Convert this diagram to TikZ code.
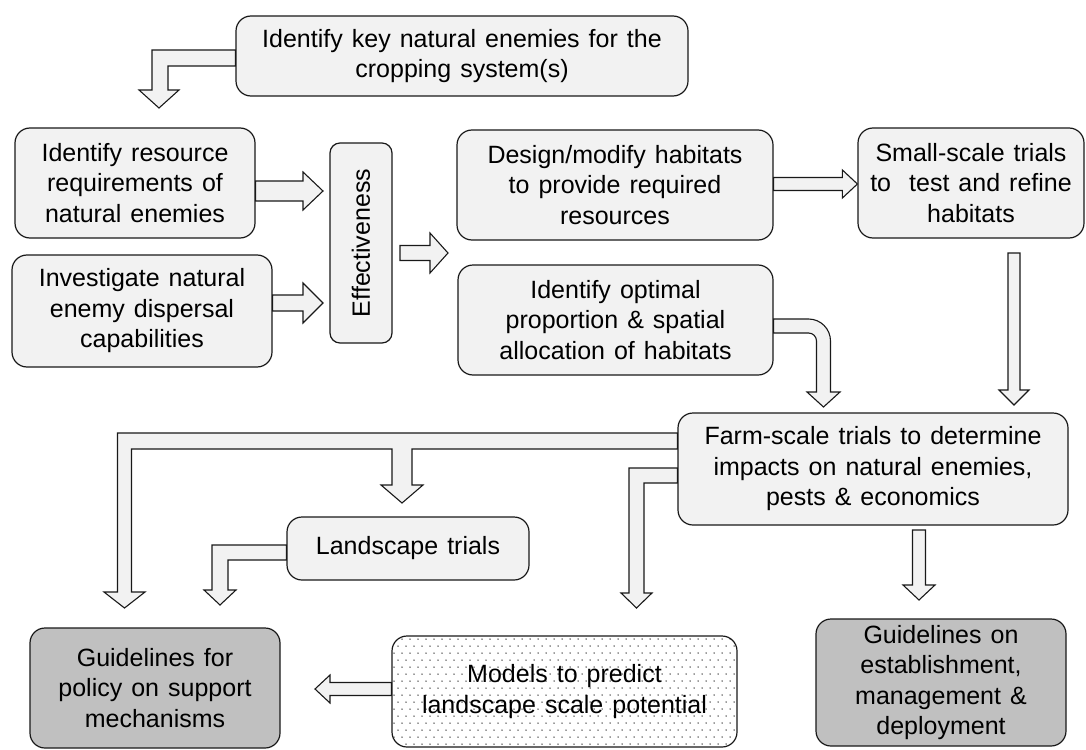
\documentclass[tikz,border=0pt]{standalone}
\usepackage{fontspec}
\setmainfont{Liberation Sans}[WordSpace=1.3]
\usetikzlibrary{calc}
\definecolor{boxfill}{HTML}{F2F2F2}
\definecolor{darkfill}{HTML}{C0C0C0}
\tikzset{
 box/.style={draw=black!90, line width=1.2pt, fill=boxfill, rounded corners=15pt, align=center, inner sep=0pt, font=\fontsize{25}{30.5}\selectfont},
 darkbox/.style={box, fill=darkfill},
 barrow/.style={draw=black!90, line width=1.1pt, fill=boxfill, line join=miter},
}
\newcommand\harr[5]{\draw[barrow] let \p1=(#1), \p2=(#2), \p3=($(#2)!#5!(#1)$) in (\x1,\y2+#3) -- (\x3,\y2+#3) -- (\x3,\y2+#4) -- (\x2,\y2) -- (\x3,\y2-#4) -- (\x3,\y2-#3) -- (\x1,\y2-#3) -- cycle;}
\newcommand\varr[5]{\draw[barrow] let \p1=(#1), \p2=(#2), \p3=($(#2)!#5!(#1)$) in (\x2+#3,\y1) -- (\x2+#3,\y3) -- (\x2+#4,\y3) -- (\x2,\y2) -- (\x2-#4,\y3) -- (\x2-#3,\y3) -- (\x2-#3,\y1) -- cycle;}
\begin{document}
\begin{tikzpicture}[x=1pt,y=-1pt]
\useasboundingbox (0,0) rectangle (1086,749);
% dotted background of the models box
\begin{scope}
\clip[rounded corners=15pt] (392,636) rectangle (737,747);
\fill[white] (392,636) rectangle (737,747);
\foreach \yy [evaluate=\yy as \off using {mod(\yy,2)*4}] in {0,...,15}
  \foreach \xx in {0,...,43}
    \fill[black!80] (394+\xx*8+\off,639+\yy*7) circle (0.75pt);
\end{scope}
% boxes
\node[box, minimum width=452pt, minimum height=80pt] (A) at (462,56) {Identify key natural enemies for the\\cropping system(s)};
\node[box, minimum width=240pt, minimum height=110pt] (B) at (135,183) {Identify resource\\requirements of\\natural enemies};
\node[box, minimum width=260pt, minimum height=112pt] (C) at (142,311) {Investigate natural\\enemy dispersal\\capabilities};
\node[box, rounded corners=10pt, rotate=90, minimum width=200pt, minimum height=62pt] (Eff) at (361,243) {Effectiveness};
\node[box, minimum width=316pt, minimum height=110pt] (D) at (615,185) {Design/modify habitats\\to provide required\\resources};
\node[box, minimum width=226pt, minimum height=110pt] (E) at (971,183) {Small-scale trials\\to\ \ test and refine\\habitats};
\node[box, minimum width=315pt, minimum height=110pt] (F) at (615.5,320) {Identify optimal\\proportion \& spatial\\allocation of habitats};
\node[box, minimum width=390pt, minimum height=112pt] (G) at (873,469) {Farm-scale trials to determine\\impacts on natural enemies,\\pests \& economics};
\node[box, minimum width=242pt, minimum height=63pt] (H) at (408,548.5) {Landscape trials};
\node[darkbox, minimum width=250pt, minimum height=120pt] (I) at (155,688) {Guidelines for\\policy on support\\mechanisms};
\node[box, fill=none, minimum width=345pt, minimum height=111pt] (J) at (564.5,691.5) {Models to predict\\landscape scale potential};
\node[darkbox, minimum width=250pt, minimum height=127pt] (K) at (941,682.5) {Guidelines on\\establishment,\\management \&\\deployment};
% straight block arrows
\harr{B.east |- 0,191}{323,191}{10pt}{19pt}{20pt}
\harr{C.east |- 0,303}{323,303}{8pt}{20pt}{20pt}
\harr{400,253}{448,253}{7.5pt}{20pt}{18pt}
\harr{D.east |- 0,184}{E.west |- 0,184}{6.5pt}{14pt}{15pt}
\harr{J.west |- 0,689}{315,689}{6.5pt}{14pt}{15pt}
\varr{1014,253}{1014,405}{6pt}{15pt}{15pt}
\varr{919,530}{919,600}{6.5pt}{16pt}{15pt}
% bent block arrows
\draw[barrow] (A.west |- 0,50) -- (152,50) -- (152,90) -- (139,90) -- (159,108) -- (179,90) -- (168,90) -- (168,66) -- (A.west |- 0,66) -- cycle;
\draw[barrow] (F.east |- 0,319) [rounded corners=22pt] -- (830.5,319) -- (830.5,370) [sharp corners] -- (830.5,392) -- (840,392) -- (823.5,407) -- (807,392) -- (816.5,392) -- (816.5,370) [rounded corners=8pt] -- (816.5,333) -- (790,333) [sharp corners] -- (F.east |- 0,333) -- cycle;
\draw[barrow] (G.west |- 0,433) -- (117.5,433) -- (117.5,592) -- (104,592) -- (124.5,608) -- (145,592) -- (131.5,592) -- (131.5,449) -- (392,449) -- (392,485) -- (381,485) -- (402,503) -- (423,485) -- (412,485) -- (412,449) -- (G.west |- 0,449) -- cycle;
\draw[barrow] (G.west |- 0,468) -- (629,468) -- (629,593) -- (621,593) -- (636.5,608) -- (652,593) -- (644,593) -- (644,483) -- (G.west |- 0,483) -- cycle;
\draw[barrow] (H.west |- 0,545) -- (212,545) -- (212,590) -- (204,590) -- (220,605) -- (236,590) -- (228,590) -- (228,560) -- (H.west |- 0,560) -- cycle;
\end{tikzpicture}
\end{document}
